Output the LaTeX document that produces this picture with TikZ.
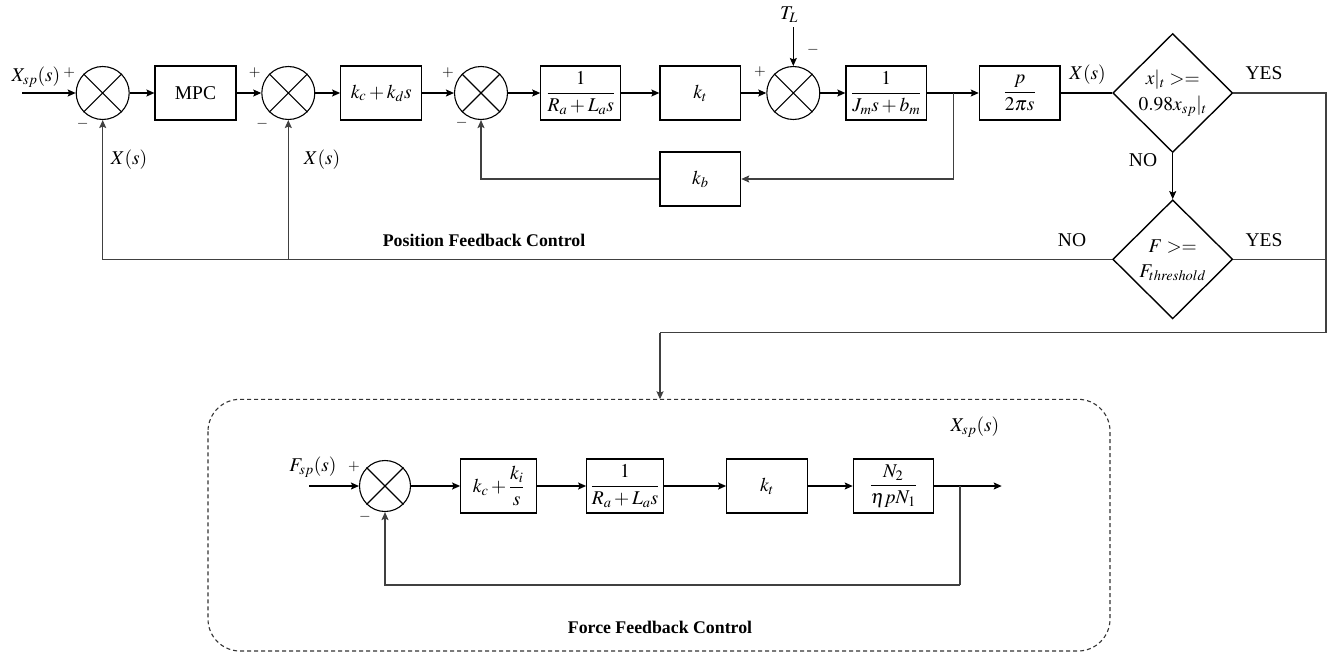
\documentclass[tikz,border=0pt]{standalone}
\usepackage{amsmath}
\usepackage{mathptmx}
\usepackage{fontspec}
\setmainfont{Liberation Serif}
\usetikzlibrary{shapes.geometric,arrows.meta,calc}
\begin{document}
\begin{tikzpicture}[x=1pt,y=-1pt,
  every node/.style={font=\fontsize{19.5}{22}\selectfont},
  blk/.style={draw, line width=1.2pt, minimum height=54pt, inner sep=1pt},
  sumj/.style={draw, circle, line width=1.1pt, minimum size=53pt, inner sep=0pt},
  dec/.style={draw, diamond, line width=1.4pt, minimum width=120pt, minimum height=119pt, inner sep=0pt},
  conn/.style={line width=1.2pt, -{Stealth[length=8pt,width=7pt,inset=1.5pt]}},
  ln/.style={line width=1.2pt},
  fb/.style={line width=1.2pt, black!75},
  fbarr/.style={fb, -{Stealth[length=8pt,width=7pt,inset=1.5pt]}},
  sgn/.style={font=\fontsize{15}{16}\selectfont, inner sep=0pt},
  ttl/.style={font=\bfseries\fontsize{17.8}{20}\selectfont, inner sep=0pt},
  lbl/.style={inner sep=0pt},
  dbox/.style={draw=black!80, line width=1.1pt, dash pattern=on 4pt off 3pt, rounded corners=32pt}
]
\useasboundingbox (0,0) rectangle (1329,656);

% ---------- top row ----------
\node[sumj] (s1) at (102.7,93) {};
\node[blk, minimum width=81pt] (mpc) at (195.5,93) {MPC};
\node[sumj] (s2) at (288.3,93) {};
\node[blk, minimum width=81pt] (pd) at (381.2,93) {$k_c + k_d s$};
\node[sumj] (s3) at (481,93) {};
\node[blk, minimum width=80pt] (ra) at (580.8,93) {$\dfrac{1}{R_a + L_a s}$};
\node[blk, minimum width=80.7pt] (kt) at (700.3,93) {$k_t$};
\node[sumj] (s4) at (793.3,93) {};
\node[blk, minimum width=80.7pt] (jm) at (886.3,93) {$\dfrac{1}{J_m s + b_m}$};
\node[blk, minimum width=80.7pt] (pb) at (1019.7,93) {$\dfrac{p}{2\pi s}$};
\node[blk, minimum width=80.7pt] (kb) at (700.3,179) {$k_b$};
\node[dec] (d1) at (1172.7,93) {};
\node[dec] (d2) at (1172.7,259.3) {};

\foreach \s in {s1,s2,s3,s4}
  \draw[line width=1.1pt] (\s.north east) -- (\s.south west) (\s.north west) -- (\s.south east);

\node (d1a) at (1172.7,80) {$x|_t >=$};
\node (d1b) at (1172.7,106) {$0.98x_{sp}|_t$};
\node (d2a) at (1172.7,247) {$F >=$};
\node (d2b) at (1172.7,273) {$F_{threshold}$};

\coordinate (in1) at (22,93);
\coordinate (br1) at (953.3,93);
\coordinate (tl) at (793.3,27);
\coordinate (rt) at (1326,93);
\coordinate (rb) at (1326,332.7);
\coordinate (bt) at (660,332.7);
\coordinate (boxtop) at (660,399.3);

\draw[conn] (in1) -- (s1.west);
\draw[conn] (s1.east) -- (mpc.west);
\draw[conn] (mpc.east) -- (s2.west);
\draw[conn] (s2.east) -- (pd.west);
\draw[conn] (pd.east) -- (s3.west);
\draw[conn] (s3.east) -- (ra.west);
\draw[conn] (ra.east) -- (kt.west);
\draw[conn] (kt.east) -- (s4.west);
\draw[conn] (s4.east) -- (jm.west);
\draw[ln] (jm.east) -- (br1);
\draw[conn] (br1) -- (pb.west);
\draw[fbarr] (br1) |- (kb.east);
\draw[fbarr] (kb.west) -| (s3.south);
\draw[conn] (tl) -- (s4.north);
\draw[ln] (pb.east) -- (d1.west);
\draw[conn] (d1.south) -- (d2.north);
\draw[fb] (d1.east) -- (rt) -- (rb) -- (bt);
\draw[fbarr] (bt) -- (boxtop);
\draw[fb] (d2.east) -- (d2.east -| rt);
\draw[fbarr] (d2.west) -| (s1.south);
\draw[fbarr] (d2.west -| s2.south) -- (s2.south);

% labels top
\node[lbl] (lxsp) at (36,77) {$X_{sp}(s)$};
\node[sgn] (p1) at (69.3,73) {$+$};
\node[sgn] (m1) at (82.7,124) {$-$};
\node[sgn] (p2) at (254.7,73) {$+$};
\node[sgn] (m2) at (262.3,124) {$-$};
\node[sgn] (p3) at (448,73) {$+$};
\node[sgn] (m3) at (461.7,123) {$-$};
\node[sgn] (p4) at (760,72) {$+$};
\node[sgn] (m4) at (813,50) {$-$};
\node[lbl] (ltl) at (789,15) {$T_L$};
\node[lbl] (lx1) at (129,160) {$X(s)$};
\node[lbl] (lx2) at (322,160) {$X(s)$};
\node[lbl] (lx3) at (1087.5,75) {$X(s)$};
\node[lbl] (yes1) at (1264,73) {YES};
\node[lbl] (yes2) at (1264,240) {YES};
\node[lbl] (no1) at (1143,160) {NO};
\node[lbl] (no2) at (1072,240) {NO};
\node[ttl] (pfc) at (484,240) {Position Feedback Control};

% ---------- bottom ----------
\draw[dbox] (208,399.3) rectangle (1110,651);
\node[sumj, minimum size=51pt] (fs) at (385,486) {};
\draw[line width=1.1pt] (fs.north east) -- (fs.south west) (fs.north west) -- (fs.south east);
\node[blk, minimum width=76pt] (pi) at (498.7,486) {$k_c + \dfrac{k_i}{s}$};
\node[blk, minimum width=76.6pt] (ra2) at (625,486) {$\dfrac{1}{R_a + L_a s}$};
\node[blk, minimum width=80.6pt] (kt2) at (767,486) {$k_t$};
\node[blk, minimum width=80pt] (ng) at (893.3,486) {$\dfrac{N_2}{\eta p N_1}$};

\coordinate (fin) at (309,486);
\coordinate (br2) at (960,486);
\coordinate (fout) at (1001.7,486);
\coordinate (fb2) at (960,585);

\draw[conn] (fin) -- (fs.west);
\draw[conn] (fs.east) -- (pi.west);
\draw[conn] (pi.east) -- (ra2.west);
\draw[conn] (ra2.east) -- (kt2.west);
\draw[conn] (kt2.east) -- (ng.west);
\draw[ln] (ng.east) -- (br2);
\draw[conn] (br2) -- (fout);
\draw[fb] (br2) -- (fb2);
\draw[fbarr] (fb2) -| (fs.south);

\node[lbl] (lfsp) at (313,467) {$F_{sp}(s)$};
\node[sgn] (p5) at (354,467) {$+$};
\node[sgn] (m5) at (365,517) {$-$};
\node[lbl] (lxsp2) at (975,427) {$X_{sp}(s)$};
\node[ttl] (ffc) at (660,627) {Force Feedback Control};
\end{tikzpicture}
\end{document}
